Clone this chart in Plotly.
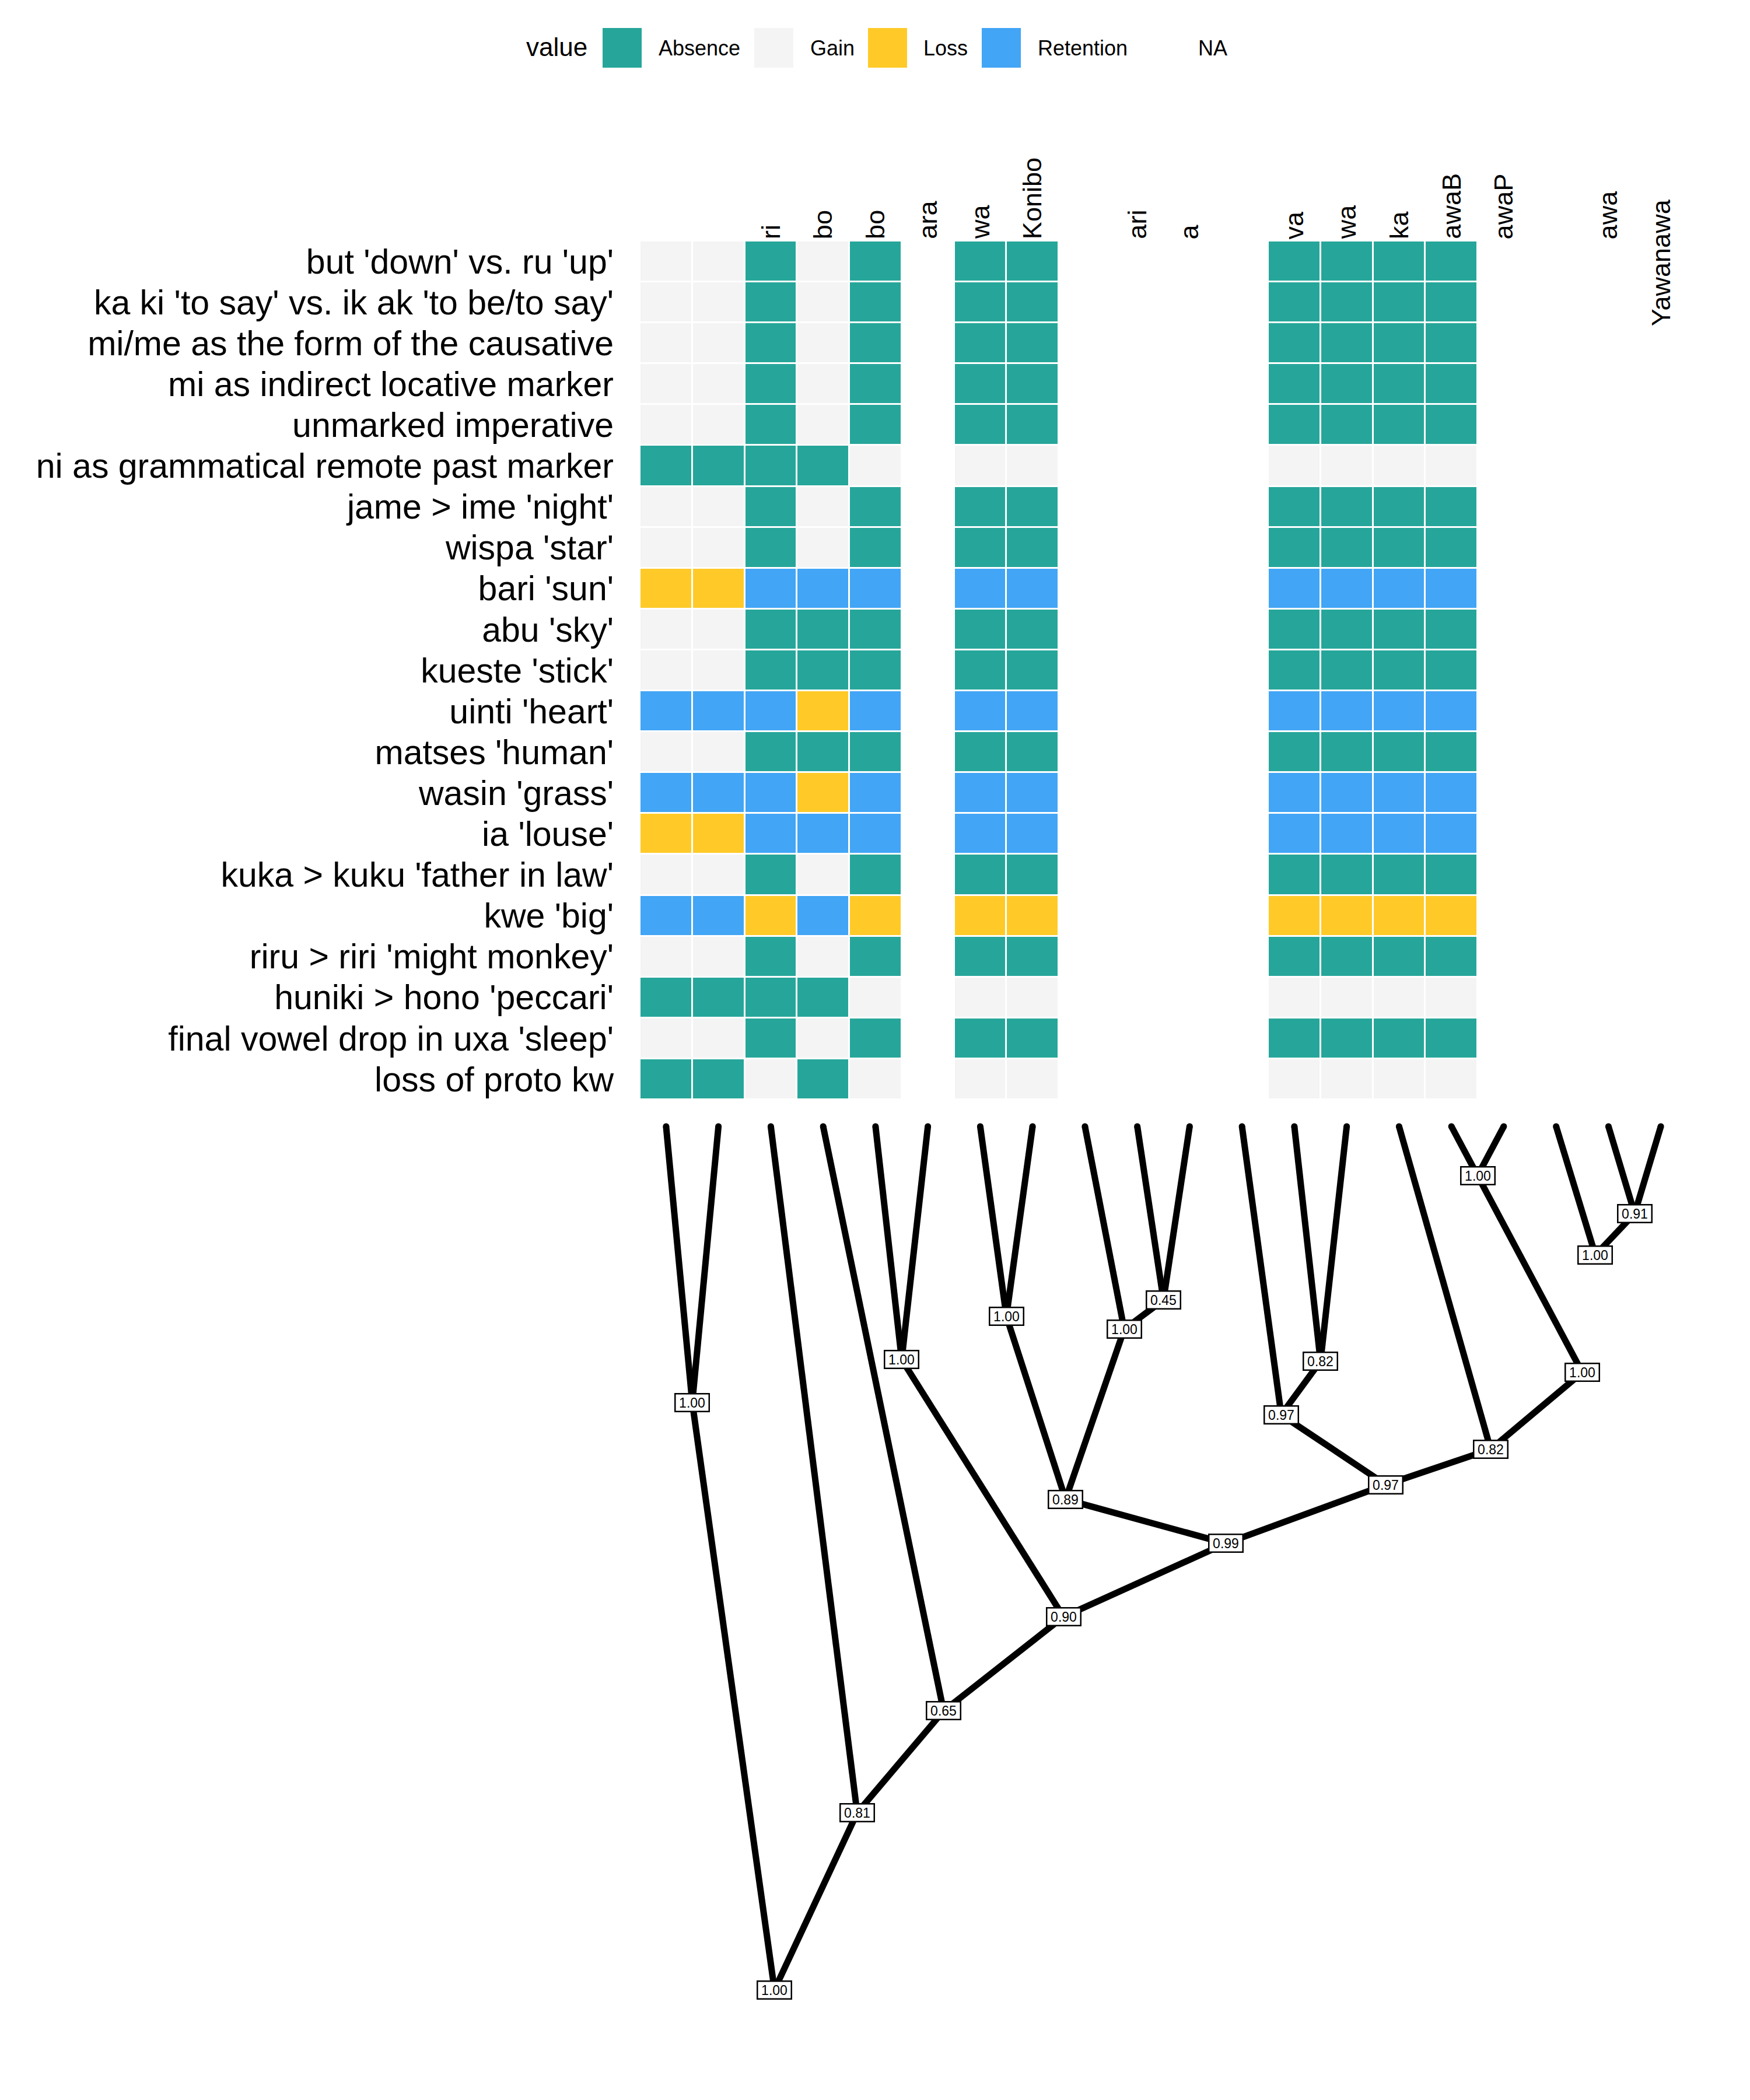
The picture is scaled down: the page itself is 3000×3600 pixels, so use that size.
import plotly.graph_objects as go

# ---------------- data ----------------
features = [
    "but 'down' vs. ru 'up'",
    "ka ki 'to say' vs. ik ak 'to be/to say'",
    "mi/me as the form of the causative",
    "mi as indirect locative marker",
    "unmarked imperative",
    "ni as grammatical remote past marker",
    "jame > ime 'night'",
    "wispa 'star'",
    "bari 'sun'",
    "abu 'sky'",
    "kueste 'stick'",
    "uinti 'heart'",
    "matses 'human'",
    "wasin 'grass'",
    "ia 'louse'",
    "kuka > kuku 'father in law'",
    "kwe 'big'",
    "riru > riri 'might monkey'",
    "huniki > hono 'peccari'",
    "final vowel drop in uxa 'sleep'",
    "loss of proto kw",
]

# visible parts of the tip labels (the rest is hidden behind the heatmap panel)
column_labels = ["", "", "ri", "bo", "bo", "ara", "wa", "Konibo", "", "ari",
                 "a", "", "va", "wa", "ka", "awaB", "awaP", "", "awa", "Yawanawa"]

states = ["Absence", "Gain", "Loss", "Retention"]
state_codes = ["A", "G", "L", "R"]
state_colors = ["#26A69A", "#F4F4F4", "#FFCA28", "#42A5F5"]

# one string per feature, one character per language column (. = NA)
matrix_rows = [
    "GGAGA.AA....AAAA....",
    "GGAGA.AA....AAAA....",
    "GGAGA.AA....AAAA....",
    "GGAGA.AA....AAAA....",
    "GGAGA.AA....AAAA....",
    "AAAAG.GG....GGGG....",
    "GGAGA.AA....AAAA....",
    "GGAGA.AA....AAAA....",
    "LLRRR.RR....RRRR....",
    "GGAAA.AA....AAAA....",
    "GGAAA.AA....AAAA....",
    "RRRLR.RR....RRRR....",
    "GGAAA.AA....AAAA....",
    "RRRLR.RR....RRRR....",
    "LLRRR.RR....RRRR....",
    "GGAGA.AA....AAAA....",
    "RRLRL.LL....LLLL....",
    "GGAGA.AA....AAAA....",
    "AAAAG.GG....GGGG....",
    "GGAGA.AA....AAAA....",
    "AAGAG.GG....GGGG....",
]

# tree: internal nodes (position in column units, age with root = 1, support)
node_names = ["root", "A", "n081", "n065", "n090", "B", "n099", "F", "C", "E", "D",
              "n097a", "n097b", "n082a", "n082b", "n100c", "n100d", "n100e", "n091"]
node_pos = [3.07, 1.5, 4.65, 6.30, 8.59, 5.5, 11.69, 8.63, 7.5, 9.75, 10.5,
            14.75, 12.75, 13.5, 16.75, 18.5, 16.5, 18.75, 19.5]
node_age = [1.0, 0.320, 0.795, 0.677, 0.568, 0.270, 0.483, 0.432, 0.220, 0.235, 0.201,
            0.415, 0.334, 0.272, 0.374, 0.285, 0.057, 0.149, 0.101]
node_support = [1.00, 1.00, 0.81, 0.65, 0.90, 1.00, 0.99, 0.89, 1.00, 1.00, 0.45,
                0.97, 0.97, 0.82, 0.82, 1.00, 1.00, 1.00, 0.91]

edge_parent = ["root", "root", "A", "A", "n081", "n081", "n065", "n065", "n090", "n090",
               "B", "B", "n099", "n099", "F", "F", "C", "C", "E", "E", "D", "D",
               "n097a", "n097a", "n097b", "n097b", "n082a", "n082a", "n082b", "n082b",
               "n100c", "n100d", "n100d", "n100e", "n100e", "n091", "n091"]
edge_child = ["A", "n081", "t1", "t2", "t3", "n065", "t4", "n090", "B", "n099",
              "t5", "t6", "F", "n097a", "C", "E", "t7", "t8", "t9", "D", "t10", "t11",
              "n097b", "n082b", "t12", "n082a", "t13", "t14", "t15", "n100c",
              "n100d", "t16", "t17", "t18", "n091", "t19", "t20"]

# ---------------- figure ----------------
W, H = 3000, 3600
FONT = "Liberation Sans, Arial, Helvetica, sans-serif"

n_cols = len(column_labels)
n_rows = len(features)

code_to_val = {c: i for i, c in enumerate(state_codes)}
z = [[code_to_val.get(ch, None) for ch in row] for row in matrix_rows]

colorscale = []
k = len(states)
for i, col in enumerate(state_colors):
    colorscale.append([i / k, col])
    colorscale.append([(i + 1) / k, col])

fig = go.Figure()

fig.add_trace(go.Heatmap(
    z=z,
    x=list(range(1, n_cols + 1)),
    y=list(range(1, n_rows + 1)),
    colorscale=colorscale,
    zmin=-0.5, zmax=k - 0.5,
    showscale=False,
    xgap=3, ygap=3,
    hoverinfo="skip",
    xaxis="x", yaxis="y",
))

# tree coordinates
tips = [f"t{i}" for i in range(1, n_cols + 1)]
pos = {t: float(i) for i, t in enumerate(tips, start=1)}
age = {t: 0.0 for t in tips}
for n, p, a in zip(node_names, node_pos, node_age):
    pos[n] = p
    age[n] = a

ex, ey = [], []
for p, c in zip(edge_parent, edge_child):
    ex += [pos[p], pos[c], None]
    ey += [age[p], age[c], None]

LW = 11
fig.add_trace(go.Scatter(
    x=ex, y=ey, mode="lines",
    line=dict(color="black", width=LW),
    hoverinfo="skip", showlegend=False,
    xaxis="x", yaxis="y2",
))
# rounded ends at the tips
fig.add_trace(go.Scatter(
    x=[pos[t] for t in tips], y=[age[t] for t in tips], mode="markers",
    marker=dict(color="black", size=LW, line=dict(width=0)),
    hoverinfo="skip", showlegend=False,
    xaxis="x", yaxis="y2",
))

annotations = []
for n, s in zip(node_names, node_support):
    annotations.append(dict(
        x=pos[n], y=age[n], xref="x", yref="y2",
        text=f"{s:.2f}", showarrow=False,
        font=dict(family=FONT, size=23, color="black"),
        bgcolor="white", bordercolor="black", borderwidth=2.5, borderpad=0,
        width=56, height=28, xanchor="center", yanchor="middle",
    ))

# column (tip) labels
HEAT_TOP = 413
HEAT_BOT = 1885
TIP_LABEL_START = 560
for i, lab in enumerate(column_labels, start=1):
    if not lab:
        continue
    bottom_px = TIP_LABEL_START if i == n_cols else HEAT_TOP - 2
    annotations.append(dict(
        x=i, xref="x", y=1 - bottom_px / H, yref="paper",
        text=lab, textangle=-90, showarrow=False,
        xanchor="center", yanchor="bottom",
        font=dict(family=FONT, size=45, color="black"),
        borderpad=0,
    ))

# legend (drawn manually)
shapes = []
legend_y_mid = 82
key_h = 68
key_w = 67
key_x = [1033, 1293, 1488, 1683]
label_x = [1127, 1387, 1581, 1777]
for kx, col in zip(key_x, state_colors):
    shapes.append(dict(type="rect", xref="paper", yref="paper",
                       x0=kx / W, x1=(kx + key_w) / W,
                       y0=1 - (legend_y_mid + key_h / 2) / H,
                       y1=1 - (legend_y_mid - key_h / 2) / H,
                       fillcolor=col, line=dict(width=0)))
for lx, lab in zip(label_x + [2052], states + ["NA"]):
    annotations.append(dict(
        x=lx / W, y=1 - legend_y_mid / H, xref="paper", yref="paper",
        text=lab, showarrow=False, xanchor="left", yanchor="middle",
        font=dict(family=FONT, size=36, color="black"),
    ))
annotations.append(dict(
    x=900 / W, y=1 - (legend_y_mid - 1) / H, xref="paper", yref="paper",
    text="value", showarrow=False, xanchor="left", yanchor="middle",
    font=dict(family=FONT, size=44, color="black"),
))

# axes geometry
X_LEFT, X_RIGHT = 1097, 2892
TIP_PX, ROOT_PX = 1931, 3411
px_per_age = (ROOT_PX - TIP_PX) / 1.0
tree_dom_top_px = 1892
age_top = (tree_dom_top_px - TIP_PX) / px_per_age
age_bottom = (H - TIP_PX) / px_per_age

fig.update_layout(
    width=W, height=H,
    margin=dict(l=0, r=0, t=0, b=0),
    paper_bgcolor="white", plot_bgcolor="rgba(0,0,0,0)",
    showlegend=False,
    font=dict(family=FONT, color="black"),
    xaxis=dict(domain=[X_LEFT / W, X_RIGHT / W], range=[0.5, n_cols + 0.5],
               showgrid=False, zeroline=False, showticklabels=False, ticks="",
               showline=False, fixedrange=True),
    yaxis=dict(domain=[1 - HEAT_BOT / H, 1 - HEAT_TOP / H], range=[n_rows + 0.5, 0.5],
               tickvals=list(range(1, n_rows + 1)), ticktext=features,
               tickfont=dict(family=FONT, size=59, color="black"),
               ticks="", ticklabelstandoff=44,
               showgrid=False, zeroline=False, showline=False, fixedrange=True),
    yaxis2=dict(domain=[0, 1 - tree_dom_top_px / H], range=[age_bottom, age_top],
                showgrid=False, zeroline=False, showticklabels=False, ticks="",
                showline=False, fixedrange=True, anchor="x"),
    annotations=annotations,
    shapes=shapes,
)

fig.write_html("out.html")
